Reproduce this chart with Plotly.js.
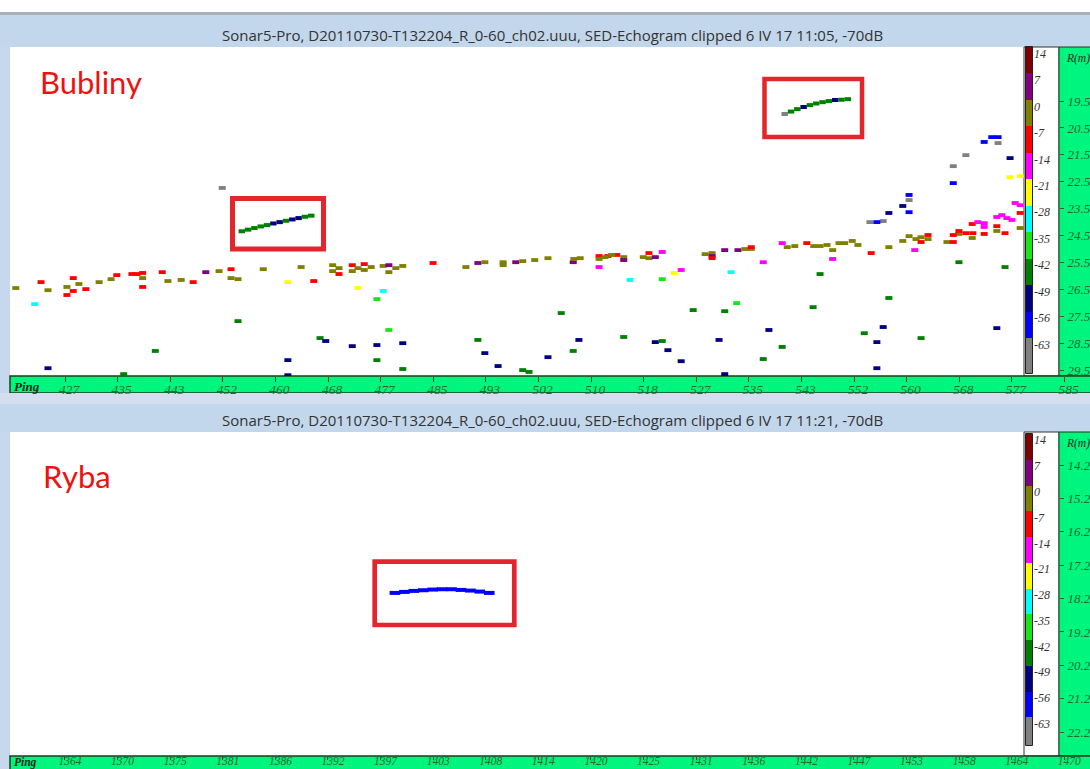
<!DOCTYPE html>
<html><head><meta charset="utf-8">
<script src="https://cdn.plot.ly/plotly-3.0.1.min.js"></script>
<style>html,body{margin:0;padding:0;background:#fff;}#chart{width:1090px;height:769px;}</style>
</head><body><div id="chart"></div>
<script>
// ---------------- data ----------------
const topTitle = "Sonar5-Pro, D20110730-T132204_R_0-60_ch02.uuu, SED-Echogram clipped 6 IV 17 11:05, -70dB";
const bottomTitle = "Sonar5-Pro, D20110730-T132204_R_0-60_ch02.uuu, SED-Echogram clipped 6 IV 17 11:21, -70dB";
const topLabel = "Bubliny";
const bottomLabel = "Ryba";

// TS colour scale (dB): upper edge of each class, and its colour
const tsLevels = [14, 7, 0, -7, -14, -21, -28, -35, -42, -49, -56, -63];
const tsColors = ['#800000', '#800080', '#808000', '#ff0000', '#ff00ff', '#ffff00',
                  '#00ffff', '#19e619', '#008000', '#000080', '#0000ff', '#808080'];

// x axes (Ping)
const topPingTicks = [427, 435.33, 443.67, 452, 460.33, 468.67, 477, 485.33, 493.67, 502,
                      510.33, 518.67, 527, 535.33, 543.67, 552, 560.33, 568.67, 577, 585.33];
const topPingLabels = ['427','435','443','452','460','468','477','485','493','502',
                       '510','518','527','535','543','552','560','568','577','585'];
const bottomPingTicks = [1364, 1369.58, 1375.16, 1380.74, 1386.32, 1391.89, 1397.47, 1403.05, 1408.63, 1414.21,
                         1419.79, 1425.37, 1430.95, 1436.53, 1442.11, 1447.68, 1453.26, 1458.84, 1464.42, 1470];
const bottomPingLabels = ['1364','1370','1375','1381','1386','1392','1397','1403','1408','1414',
                          '1420','1425','1431','1436','1442','1447','1453','1458','1464','1470'];
// y axes (R, m)
const topRangeTicks = [19.5, 20.5, 21.5, 22.5, 23.5, 24.5, 25.5, 26.5, 27.5, 28.5, 29.5];
const bottomRangeTicks = [14.2, 15.2, 16.2, 17.2, 18.2, 19.2, 20.2, 21.2, 22.2];

// single echoes in the upper echogram: ping, range (m), TS (dB)
const topEchoPing = [
 419.2,423.2,424.3,422.2,424.3,427.3,428.3,428.3,427.3,429.2,430.3,432.4,434.3,435.2,437.6,438.4,439.3,439.3,439.3,436.3,
 442.4,443.3,445.4,447.3,449.3,451.4,453.3,453.3,454.4,441.3,454.4,458.4,462.3,464.4,466.4,462.3,462.3,469.4,470.4,469.4,
 470.4,472.5,474.4,472.5,474.4,473.4,475.5,473.4,477.4,476.4,478.3,467.4,468.3,472.5,476.4,480.5,476.4,480.5,477.4,479.4,
 480.5,478.3,478.3,485.3,490.5,492.4,493.5,492.4,493.5,495.6,451.9,
 496.4,496.4,498.4,499.5,501.4,503.5,507.5,507.6,508.6,511.6,513.0,514.4,511.6,512.5,513.6,515.5,515.5,511.6,518.6,519.5,
 519.5,520.5,521.6,516.5,521.6,523.5,524.6,528.4,529.5,529.5,529.5,531.5,533.6,534.7,535.7,535.7,532.5,537.6,540.6,541.4,
 542.6,544.5,545.6,546.6,547.7,548.6,548.6,549.6,550.5,551.7,552.6,546.6,554.7,557.5,559.7,560.7,561.8,562.6,563.7,562.6,
 563.7,561.6,566.7,568.6,570.7,567.7,567.7,568.6,569.7,570.8,570.7,571.6,572.6,572.6,572.6,574.6,574.6,574.6,554.5,556.6,
 555.6,557.5,559.7,560.7,560.7,560.7,567.7,567.7,569.7,572.6,573.8,574.8,574.8,568.6,557.5,545.5,533.4,531.5,526.5,505.6,
 515.5,508.4,507.5,503.5,499.5,500.5,520.5,521.6,522.5,524.6,530.6,531.5,538.5,540.6,537.6,553.6,555.6,556.6,555.6,562.6,
 574.6,576.7,578.3,576.7,577.5,578.3,575.4,576.2,577.0,575.9,578.3,578.3,575.9];
const topEchoRange = [
 26.45,26.23,26.53,27.05,29.43,26.41,26.08,26.56,26.71,26.30,26.49,26.23,26.12,25.97,25.93,25.93,25.89,26.08,26.41,29.65,
 25.86,26.19,26.15,26.23,25.86,25.82,25.75,26.08,26.12,28.79,27.68,25.75,26.23,25.67,26.19,29.13,29.69,25.60,25.71,25.82,
 25.93,25.60,25.56,25.82,25.78,25.71,25.67,26.45,26.56,26.86,28.01,28.31,28.42,28.61,28.57,28.50,29.13,29.46,25.63,25.71,
 25.63,25.86,25.60,25.52,25.67,25.52,25.49,28.38,28.87,29.35,22.73,
 25.60,25.49,25.49,25.45,25.41,25.34,25.49,25.37,25.34,25.26,25.26,25.22,25.37,25.30,25.22,25.30,25.41,25.67,25.30,25.34,
 25.15,25.30,25.11,26.15,26.12,25.89,25.78,25.19,25.15,25.26,25.34,25.04,25.04,25.00,25.00,24.93,25.86,25.49,24.78,24.93,
 24.89,24.78,24.89,24.89,24.85,25.04,25.37,24.78,24.78,24.70,24.85,25.93,25.15,24.93,24.70,24.52,24.63,24.56,24.63,24.74,
 24.48,25.04,24.74,24.44,24.59,24.74,24.48,24.33,24.41,24.41,24.07,24.00,24.04,24.18,24.44,23.81,24.15,24.33,24.00,23.96,
 24.00,23.66,23.40,22.99,23.18,23.63,22.55,21.92,21.51,21.02,20.84,20.84,21.06,25.49,26.82,27.16,27.01,27.31,27.27,27.38,
 28.27,28.38,28.79,29.02,29.50,29.57,28.46,28.42,28.76,29.17,28.38,29.65,28.01,28.64,29.09,28.13,28.46,27.90,29.43,28.31,
 27.94,22.33,22.29,21.62,23.29,23.37,23.74,23.85,23.92,24.41,23.66,24.22,25.67];
const topEchoTS = [
 -3,-10,-3,-31,-52,-3,-10,-10,-10,-3,-10,-3,-3,-10,-10,-10,-10,-3,-10,-45,
 -10,-3,-3,-10,3,-3,-10,-3,-3,-45,-45,-3,-24,-3,-10,-52,-52,-3,-3,-3,
 -10,-10,-10,-3,-3,-3,-3,-24,-31,-38,-38,-45,-52,-52,-52,-52,-45,-45,-3,-3,
 -3,-3,3,-10,-3,3,-3,-45,-52,-52,-66,
 -3,-3,3,-3,-3,-3,3,-3,-3,-10,-10,-10,-3,-3,-3,-3,3,-17,-3,-3,
 -10,3,-17,-31,-38,-24,-17,-3,-3,3,-10,3,3,-3,-3,-10,-31,-17,-17,-3,
 -3,-10,-3,-3,-3,-3,-17,-3,-3,-3,-3,-45,-10,-3,-3,-3,-3,-3,-3,-10,
 -10,-17,-3,-3,-3,-10,-10,-10,-10,-10,-10,-17,-17,-17,-10,-17,-10,-3,-66,-66,
 -59,-52,-52,-59,-66,-59,-59,-66,-66,-59,-59,-59,-66,-45,-45,-45,-38,-45,-45,-45,
 -45,-52,-45,-52,-45,-45,-52,-45,-52,-52,-52,-52,-52,-45,-45,-45,-52,-52,-52,-45,
 -52,-24,-24,-52,-17,-17,-17,-17,-17,-10,-10,-3,-45];

// tracked targets (boxed)
const trackAPing = [455, 456, 457, 458, 459, 460, 461, 462, 463, 464, 465, 466];
const trackARange = [24.34, 24.28, 24.22, 24.16, 24.11, 24.05, 24.00, 23.95, 23.90, 23.85, 23.80, 23.76];
const trackATS = [-45, -45, -45, -45, -45, -52, -52, -45, -52, -52, -45, -45];
const trackBPing = [541, 542, 543, 544, 545, 546, 547, 548, 549, 550, 551];
const trackBRange = [19.98, 19.89, 19.80, 19.72, 19.65, 19.59, 19.54, 19.50, 19.46, 19.45, 19.43];
const trackBTS = [-66, -45, -45, -52, -45, -45, -45, -45, -52, -45, -45];
const fishPing = [1399, 1400, 1401, 1402, 1403, 1404, 1405, 1406, 1407, 1408, 1409];
const fishRange = [18.03, 18.00, 17.97, 17.95, 17.93, 17.92, 17.92, 17.94, 17.96, 17.99, 18.03];
const fishTS = [-59, -59, -59, -59, -59, -59, -59, -59, -59, -59, -59];

// ---------------- helpers ----------------
const W = 1090, H = 769;
const px = x => x / W, py = y => 1 - y / H;
function tsColor(ts) {
  let k = tsLevels.findIndex(l => ts >= l - 7);
  if (k < 0) k = tsLevels.length - 1;
  return tsColors[k];
}
const green = '#00f57f';
const blueBg = '#c6d8ee';
const tickGreen = '#286828';
const serifIt = (size, color) => ({family: 'Liberation Serif, Times New Roman, serif', size: size, color: color, style: 'italic'});

function echoTrace(p, r, ts, xa, ya, size, width) {
  const cols = ts.map(tsColor);
  return {type: 'scatter', mode: 'markers', x: p, y: r, xaxis: xa, yaxis: ya, hoverinfo: 'skip',
    marker: {symbol: 'line-ew', size: size, color: cols, line: {color: cols, width: width}}};
}

// discrete colorbar as heatmap
const edges = [-73].concat(tsLevels.slice().reverse());
const zRows = tsLevels.map((_, j) => [tsLevels.length - 1 - j]);
const cscale = [];
tsColors.forEach((c, k) => { cscale.push([k / tsColors.length, c]); cscale.push([(k + 1) / tsColors.length, c]); });
function barTrace(xa, ya) {
  return {type: 'heatmap', x: [0], y: edges, z: zRows, xaxis: xa, yaxis: ya, colorscale: cscale,
    zmin: -0.5, zmax: tsColors.length - 0.5, showscale: false, hoverinfo: 'skip'};
}

const data = [
  echoTrace(topEchoPing, topEchoRange, topEchoTS, 'x', 'y', 5, 3.8),
  echoTrace(trackAPing, trackARange, trackATS, 'x', 'y', 4.6, 4),
  echoTrace(trackBPing, trackBRange, trackBTS, 'x', 'y', 4.6, 4),
  echoTrace(fishPing, fishRange, fishTS, 'x2', 'y2', 7.6, 4),
  barTrace('x3', 'y3'),
  barTrace('x4', 'y4')
];

function rect(x0, y0, x1, y1, fill, line, layer) {
  return {type: 'rect', xref: 'paper', yref: 'paper', x0: px(x0), x1: px(x1), y0: py(y1), y1: py(y0),
    fillcolor: fill || 'rgba(0,0,0,0)', line: line || {width: 0}, layer: layer || 'below'};
}
const shapes = [
  rect(0, 0, 1090, 12, '#ffffff'),
  rect(0, 12, 1090, 15, '#a9b0b8'),
  rect(0, 15, 1090, 47, '#c2d6ec'),
  rect(10, 47, 1024, 376, '#ffffff'),
  rect(1024, 47, 1059, 376, '#ffffff', {color: '#333', width: 1}),
  rect(1059, 47, 1095, 376, green, {color: '#1e3b1e', width: 1}),
  rect(10, 376, 1095, 393, green, {color: '#1e3b1e', width: 1.5}),
  rect(0, 393, 1090, 404, '#d4deee'),
  rect(0, 404, 1090, 432, '#c2d6ec'),
  rect(10, 432, 1024, 756, '#ffffff'),
  rect(1024, 432, 1059, 756, '#ffffff', {color: '#333', width: 1}),
  rect(1059, 432, 1095, 756, green, {color: '#1e3b1e', width: 1}),
  rect(10, 756, 1095, 780, green, {color: '#1e3b1e', width: 1.5}),
  rect(1025.5, 46.5, 1032.5, 373.5, null, {color: '#222', width: 1}, 'above'),
  rect(1025.5, 433.5, 1032.5, 745.5, null, {color: '#222', width: 1}, 'above'),
  rect(232.5, 198.5, 323.5, 249, null, {color: '#e3262d', width: 5}, 'above'),
  rect(764.5, 79, 862, 137, null, {color: '#e3262d', width: 4.5}, 'above'),
  rect(374.7, 561.7, 514.3, 625, null, {color: '#e3262d', width: 4.7}, 'above')
];

function ann(text, x, y, font, xanchor) {
  return {text: text, xref: 'paper', yref: 'paper', x: px(x), y: py(y), xanchor: xanchor || 'center',
    yanchor: 'middle', showarrow: false, font: font};
}
const annotations = [
  ann(topTitle, 552, 35, {family: 'Open Sans, sans-serif', size: 15, color: '#333'}),
  ann(bottomTitle, 552, 420, {family: 'Open Sans, sans-serif', size: 15, color: '#333'}),
  ann(topLabel, 38, 82, {family: 'Lato, sans-serif', size: 31, color: '#ee1111'}, 'left'),
  ann(bottomLabel, 41, 476, {family: 'Lato, sans-serif', size: 31, color: '#ee1111'}, 'left'),
  ann('<b>Ping</b>', 12, 386, serifIt(13, '#1a2a1a'), 'left'),
  ann('<b>Ping</b>', 12, 762.5, serifIt(11.5, '#1a2a1a'), 'left'),
  ann('R(m)', 1064, 58, serifIt(11.5, '#1a2a1a'), 'left'),
  ann('R(m)', 1064, 444, serifIt(11.5, '#1a2a1a'), 'left')
];

function pingAxis(range, anchor, vals, labels, size, standoff, len, shift) {
  return {domain: [0, 1], range: range, anchor: anchor, showgrid: false, zeroline: false, showline: false,
    tickmode: 'array', tickvals: vals, ticktext: labels, ticks: 'outside', ticklen: len, tickwidth: 1,
    tickcolor: '#2d3d2d', tickfont: serifIt(size, tickGreen), ticklabelshift: shift, ticklabelstandoff: standoff,
    fixedrange: true};
}
function rangeAxis(domain, range, vals) {
  return {domain: domain, range: range, anchor: 'free', position: px(1059), side: 'right',
    showgrid: false, zeroline: false, showline: false, tickmode: 'array', tickvals: vals,
    ticktext: vals.map(v => v.toFixed(1)), ticks: 'outside', ticklen: 4, tickwidth: 1, tickcolor: tickGreen,
    tickfont: serifIt(13, tickGreen), ticklabelstandoff: 1, fixedrange: true};
}
function barAxisX(anchor) {
  return {domain: [px(1026), px(1032)], range: [-0.5, 0.5], anchor: anchor, visible: false, fixedrange: true};
}
function barAxisY(domain, range, anchor) {
  return {domain: domain, range: range, anchor: anchor, side: 'right', showgrid: false, zeroline: false,
    showline: false, ticks: '', tickmode: 'array', tickvals: tsLevels.map(v => v - 1.7),
    ticktext: tsLevels.map(String), tickfont: serifIt(12, '#333'), ticklabelstandoff: 1, fixedrange: true};
}

const layout = {
  width: W, height: H, margin: {l: 0, r: 0, t: 0, b: 0},
  paper_bgcolor: blueBg, plot_bgcolor: 'rgba(0,0,0,0)', showlegend: false,
  xaxis: pingAxis([416.70, 589.36], 'y', topPingTicks, topPingLabels, 13.5, -4, 5, 4),
  yaxis: rangeAxis([py(376), py(47)], [29.72, 17.49], topRangeTicks),
  xaxis2: pingAxis([1357.11, 1472.72], 'y2', bottomPingTicks, bottomPingLabels, 11.5, -9, 3, 5),
  yaxis2: rangeAxis([py(756), py(432)], [22.913, 13.212], bottomRangeTicks),
  xaxis3: barAxisX('y3'),
  yaxis3: barAxisY([py(373), py(47)], [-72.2, 14], 'x3'),
  xaxis4: barAxisX('y4'),
  yaxis4: barAxisY([py(745), py(434)], [-70.5, 14], 'x4'),
  shapes: shapes,
  annotations: annotations
};

Plotly.newPlot('chart', data, layout, {displayModeBar: false, staticPlot: true});
</script>
</body></html>
